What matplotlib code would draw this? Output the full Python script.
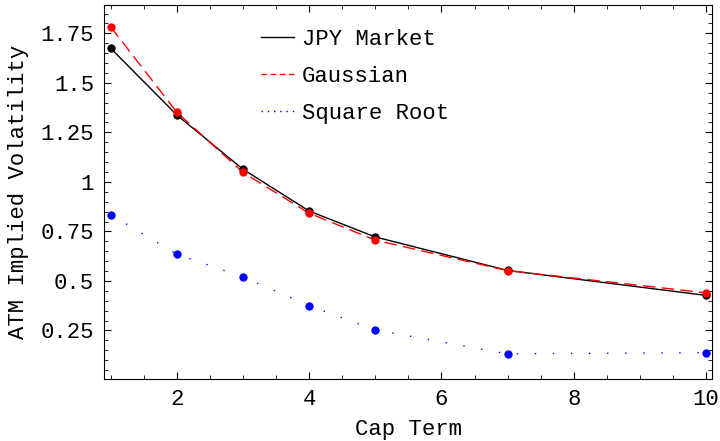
import matplotlib
matplotlib.use("Agg")
import matplotlib.pyplot as plt
from matplotlib.ticker import MultipleLocator
from matplotlib.lines import Line2D

cap_term = [1, 2, 3, 4, 5, 7, 10]
jpy_market = [1.675, 1.338, 1.064, 0.853, 0.722, 0.553, 0.427]
gaussian = [1.783, 1.352, 1.048, 0.842, 0.706, 0.552, 0.440]
square_root = [0.835, 0.635, 0.520, 0.375, 0.253, 0.132, 0.138]

series_names = ['JPY Market', 'Gaussian', 'Square Root']

x_ticks = [2, 4, 6, 8, 10]
y_ticks = [0.25, 0.5, 0.75, 1.0, 1.25, 1.5, 1.75]
y_tick_labels = ["0.25", "0.5", "0.75", "1", "1.25", "1.5", "1.75"]

plt.rcParams['font.family'] = ['Liberation Mono', 'DejaVu Sans Mono']
plt.rcParams['font.size'] = 16

fig = plt.figure(figsize=(7.2, 4.41), dpi=100)
ax = fig.add_axes([0.1444, 0.1406, 0.8446, 0.849])

ax.plot(cap_term, jpy_market, color='black', lw=1.0)
ax.plot(cap_term, gaussian, color='#ff0000', lw=1.0, dashes=(9, 4.5))
ax.plot(cap_term, square_root, color='#0000ff', lw=1.0, dashes=(1, 12))

ax.plot(cap_term, jpy_market, 'o', color='black', ms=6, mec='none')
ax.plot(cap_term, gaussian, 'o', color='#ff0000', ms=6, mec='none')
ax.plot(cap_term, square_root, 'o', color='#0000ff', ms=6, mec='none')

ax.set_xlim(0.90, 10.09)
ax.set_ylim(0.005, 1.895)
ax.set_xticks(x_ticks)
ax.set_xticklabels([str(t) for t in x_ticks])
ax.set_yticks(y_ticks)
ax.set_yticklabels(y_tick_labels)
ax.xaxis.set_minor_locator(MultipleLocator(0.5))
ax.yaxis.set_minor_locator(MultipleLocator(0.05))
ax.tick_params(which='both', direction='in', top=True, right=True, labelsize=16)
ax.tick_params(which='major', length=5, width=0.8, pad=7)
ax.tick_params(which='minor', length=3, width=0.6)
for s in ax.spines.values():
    s.set_linewidth(0.8)

ax.set_xlabel('Cap Term', fontsize=16)
ax.set_ylabel('ATM Implied Volatility', fontsize=16)
ax.xaxis.set_label_coords(0.5, -0.107)
ax.yaxis.set_label_coords(-0.123, 0.5)

handles = [
    Line2D([], [], color='black', lw=1.0),
    Line2D([], [], color='#ff0000', lw=1.0, dashes=(4, 2.6)),
    Line2D([], [], color='#0000ff', lw=1.0, dashes=(1, 3.5)),
]
leg = ax.legend(handles, series_names, loc='upper left', bbox_to_anchor=(0.258, 0.936),
                frameon=False, borderpad=0, borderaxespad=0, handlelength=1.5,
                labelspacing=0.73, handletextpad=0.36, fontsize=16)

fig.savefig('out.png', dpi=100)
